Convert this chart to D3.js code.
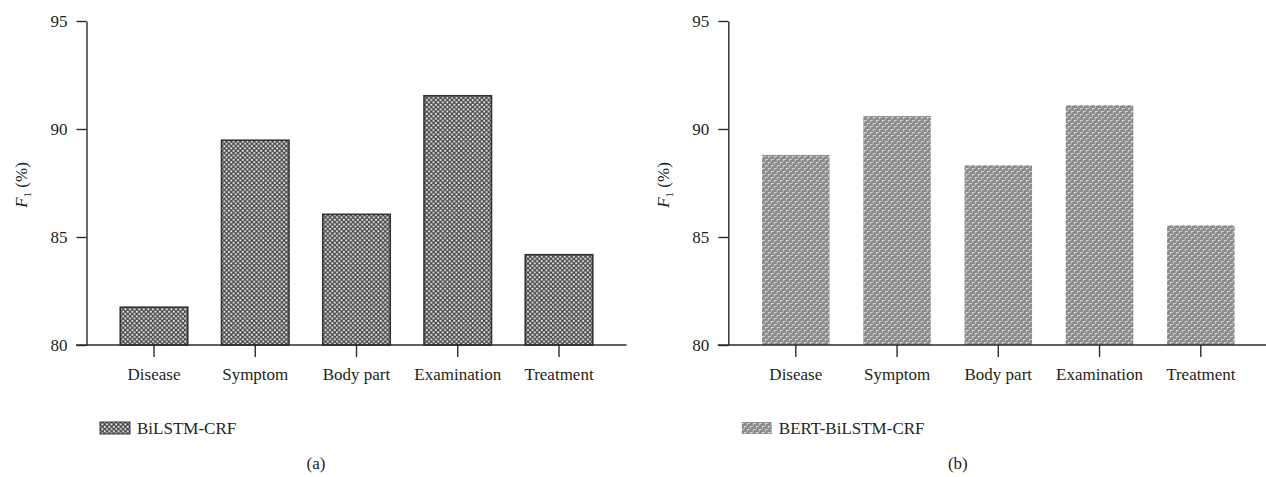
<!DOCTYPE html>
<html>
<head>
<meta charset="utf-8">
<script src="https://cdn.jsdelivr.net/npm/d3@7"></script>
<style>
  html, body { margin: 0; padding: 0; background: #ffffff; }
  svg text { font-family: "Liberation Serif", "Times New Roman", Times, "DejaVu Serif", serif; fill: #231f20; }
</style>
</head>
<body>
<svg id="chart" width="1266" height="477"></svg>
<script>
// Entity categories and F1 scores (%) for each model
const categories = ["Disease", "Symptom", "Body part", "Examination", "Treatment"];
const bilstmCrfF1 = [81.75, 89.48, 86.05, 91.54, 84.18];
const bertBilstmCrfF1 = [88.8, 90.6, 88.32, 91.1, 85.54];
const yTickValues = [80, 85, 90, 95];
const panelTags = ["(a)", "(b)"];
const seriesNames = ["BiLSTM-CRF", "BERT-BiLSTM-CRF"];

const serif = '"Liberation Serif", "Times New Roman", Times, "DejaVu Serif", serif';

const svg = d3.select("#chart");
const defs = svg.append("defs");

// Dark checker fill for BiLSTM-CRF
const checker = defs.append("pattern")
  .attr("id", "checker").attr("patternUnits", "userSpaceOnUse")
  .attr("width", 4.6).attr("height", 4.6);
checker.append("rect").attr("width", 4.6).attr("height", 4.6).attr("fill", "#4a4a4a");
checker.append("rect").attr("x", 0.3).attr("y", 0.3).attr("width", 1.8).attr("height", 1.8).attr("fill", "#ffffff");
checker.append("rect").attr("x", 2.6).attr("y", 2.6).attr("width", 1.8).attr("height", 1.8).attr("fill", "#ffffff");

// Grey woven fill for BERT-BiLSTM-CRF
const weave = defs.append("pattern")
  .attr("id", "weave").attr("patternUnits", "userSpaceOnUse")
  .attr("width", 6).attr("height", 6);
weave.append("rect").attr("width", 6).attr("height", 6).attr("fill", "#8b8b8b");
weave.append("rect").attr("x", 0).attr("y", 0).attr("width", 3).attr("height", 1).attr("fill", "#d2d2d2");
weave.append("rect").attr("x", 0).attr("y", 1).attr("width", 1).attr("height", 1.5).attr("fill", "#d2d2d2");
weave.append("rect").attr("x", 3).attr("y", 3).attr("width", 3).attr("height", 1).attr("fill", "#d2d2d2");
weave.append("rect").attr("x", 3).attr("y", 4).attr("width", 1).attr("height", 1.5).attr("fill", "#d2d2d2");

const panels = [
  { values: bilstmCrfF1, fill: "url(#checker)", stroke: "#333333", offset: 0 },
  { values: bertBilstmCrfF1, fill: "url(#weave)", stroke: "none", offset: 641.8 }
];

const axisColor = "#2b2b2b";

panels.forEach((p, i) => {
  const g = svg.append("g").attr("transform", `translate(${p.offset},0)`)
    .attr("font-family", serif);
  const left = 86.5, right = 626.5, top = 21, bottom = 345;

  const x = d3.scaleBand().domain(categories).range([left, right])
    .paddingInner(1 / 3).paddingOuter(1 / 3);
  const y = d3.scaleLinear().domain([80, 95]).range([bottom, top]);

  // bars
  g.append("g").selectAll("rect").data(categories).join("rect")
    .attr("x", d => x(d))
    .attr("y", (d, k) => y(p.values[k]))
    .attr("width", x.bandwidth())
    .attr("height", (d, k) => y(80) - y(p.values[k]))
    .attr("fill", p.fill)
    .attr("stroke", p.stroke)
    .attr("stroke-width", 1.6);

  // y axis
  const yAxis = g.append("g").attr("transform", `translate(${left},0)`)
    .call(d3.axisLeft(y).tickValues(yTickValues).tickSize(10).tickSizeOuter(0).tickPadding(9));
  yAxis.attr("font-family", serif).attr("font-size", 17);
  yAxis.select(".domain").attr("stroke", axisColor).attr("stroke-width", 1.4);
  yAxis.selectAll(".tick line").attr("stroke", axisColor).attr("stroke-width", 1.4);
  yAxis.selectAll(".tick text").attr("font-size", 17).attr("fill", "#231f20")
    .style("font-family", serif);

  // x axis
  const xAxis = g.append("g").attr("transform", `translate(0,${bottom})`)
    .call(d3.axisBottom(x).tickSize(12).tickSizeOuter(0).tickPadding(11));
  xAxis.attr("font-family", serif).attr("font-size", 17);
  xAxis.select(".domain").attr("d", `M${left - 10.5},0H${right}`)
    .attr("stroke", axisColor).attr("stroke-width", 1.4);
  xAxis.selectAll(".tick line").attr("stroke", axisColor).attr("stroke-width", 1.4);
  xAxis.selectAll(".tick text").attr("font-size", 17).attr("fill", "#231f20")
    .style("font-family", serif);

  // y-axis title: F1 (%)
  const yt = g.append("text")
    .attr("transform", `translate(27,${(top + bottom) / 2 + 2}) rotate(-90)`)
    .attr("text-anchor", "middle").attr("font-size", 17).style("font-family", serif);
  yt.append("tspan").attr("font-style", "italic").text("F");
  yt.append("tspan").attr("font-size", 11).attr("dy", 4).text("1");
  yt.append("tspan").attr("dy", -4).text(" (%)");

  // legend
  g.append("rect").attr("x", 100).attr("y", 422).attr("width", 30).attr("height", 12)
    .attr("fill", p.fill).attr("stroke", p.stroke).attr("stroke-width", 1);
  g.append("text").attr("x", 137).attr("y", 434).attr("font-size", 17)
    .style("font-family", serif).text(seriesNames[i]);

  // panel tag
  g.append("text").attr("x", 316).attr("y", 469).attr("text-anchor", "middle")
    .attr("font-size", 17).style("font-family", serif).text(panelTags[i]);
});
</script>
</body>
</html>
